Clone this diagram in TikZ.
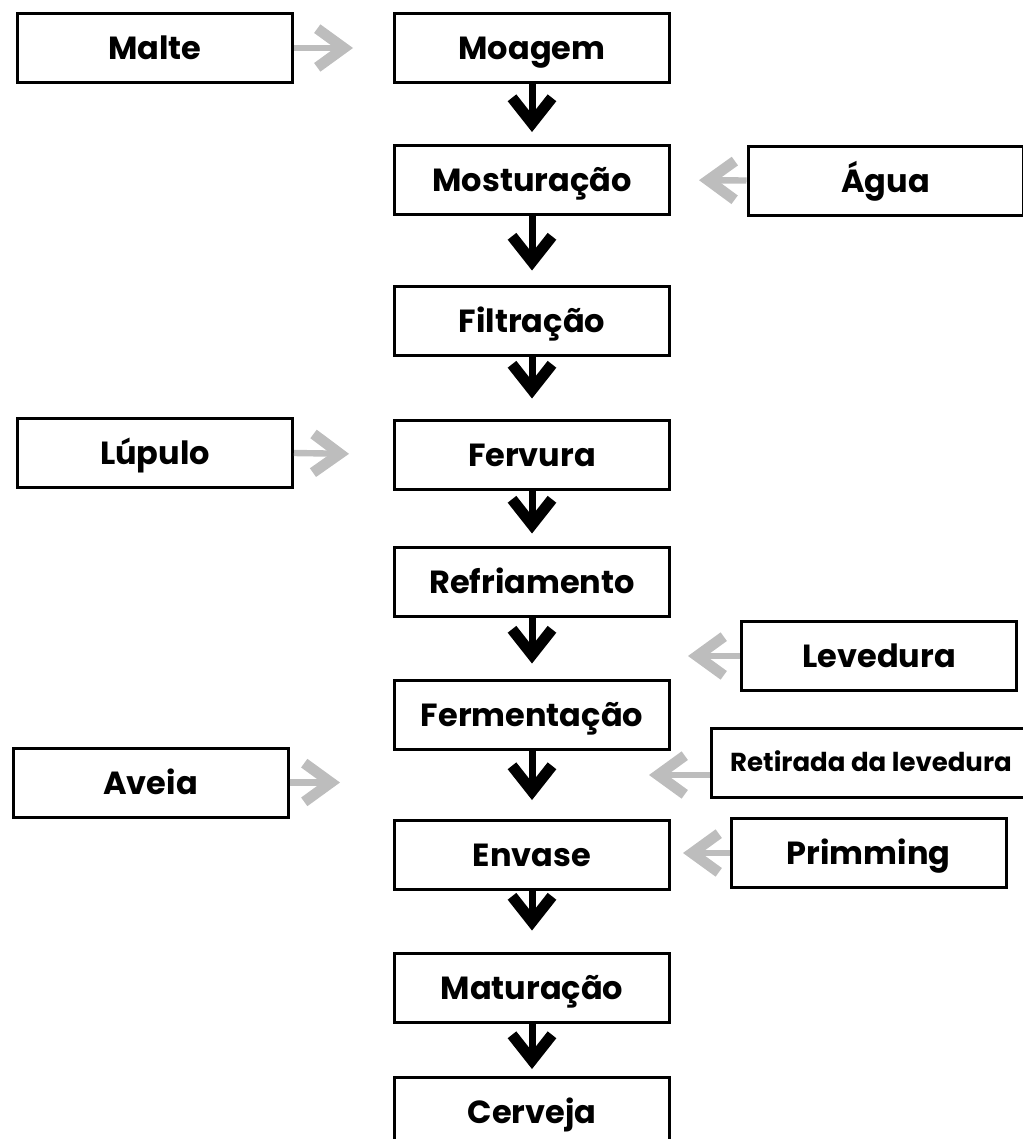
\documentclass[tikz,border=0pt]{standalone}
\usepackage{fontspec}
\setmainfont{Poppins}
\usetikzlibrary{arrows.meta}
\definecolor{feedgray}{HTML}{BDBDBD}
\begin{document}
\begin{tikzpicture}[x=0.75pt,y=-0.75pt,
  box/.style={draw, fill=white, line width=2.25pt, minimum width=206.25pt, minimum height=51.75pt,
    inner sep=0pt, font=\bfseries\fontsize{24}{28}\selectfont, text height=17.5pt, text depth=0pt},
  smalltext/.style={font=\bfseries\fontsize{19.5}{23}\selectfont, text height=14pt},
  flow/.style={line width=5.25pt, shorten >=#1*0.75pt,
    -{Straight Barb[length=19pt, width=30pt, line width=8.25pt]}},
  feed/.style={draw=feedgray, line width=4.8pt, shorten >=#1*0.75pt,
    -{Straight Barb[length=20pt, width=29pt, line width=8pt]}},
  feed/.default=0, flow/.default=0]
\useasboundingbox (0,0) rectangle (1023,1139);
\clip (0,0) rectangle (1023,1139);
% main column
\node[box] (moagem) at (532,48) {Moagem};
\node[box] (mostur) at (532,180) {Mosturação};
\node[box] (filtr) at (532,320.5) {Filtração};
\node[box] (fervura) at (532,454.5) {Fervura};
\node[box] (refri) at (532,581.5) {Refriamento};
\node[box] (ferment) at (532,714.5) {Fermentação};
\node[box] (envase) at (532,855) {Envase};
\node[box] (matur) at (532,987.5) {Maturação};
\node[box] (cerveja) at (532,1112) {Cerveja};
% inputs
\node[box] (malte) at (155,48) {Malte};
\node[box] (agua) at (885.5,180.5) {Água};
\node[box] (lupulo) at (155,453) {Lúpulo};
\node[box] (levedura) at (879,656) {Levedura};
\node[box, smalltext, minimum width=240pt] (retirada) at (871,762.5) {Retirada da levedura};
\node[box] (aveia) at (150.5,782.5) {Aveia};
\node[box] (primming) at (868.5,853) {Primming};
% tips of free-ended feed arrows
\coordinate (levtip) at (688,656);
\coordinate (rettip) at (649,775);
\coordinate (avetip) at (340,782.5);
% flow arrows
\draw[flow=12] (moagem.south) -- (mostur.north);
\draw[flow=14] (mostur.south) -- (filtr.north);
\draw[flow=20] (filtr.south) -- (fervura.north);
\draw[flow=12] (fervura.south) -- (refri.north);
\draw[flow=15] (refri.south) -- (ferment.north);
\draw[flow=19] (ferment.south) -- (envase.north);
\draw[flow=21] (envase.south) -- (matur.north);
\draw[flow=7] (matur.south) -- (cerveja.north);
% feed arrows
\draw[feed=40] (malte.east) -- (moagem.west);
\draw[feed=28] (agua.west) -- (mostur.east);
\draw[feed=44] (lupulo.east) -- (fervura.west);
\draw[feed] (levedura.west) -- (levtip);
\draw[feed] (rettip -| retirada.west) -- (rettip);
\draw[feed] (aveia.east) -- (avetip);
\draw[feed=12] (primming.west) -- (primming.west -| envase.east);
\end{tikzpicture}
\end{document}
